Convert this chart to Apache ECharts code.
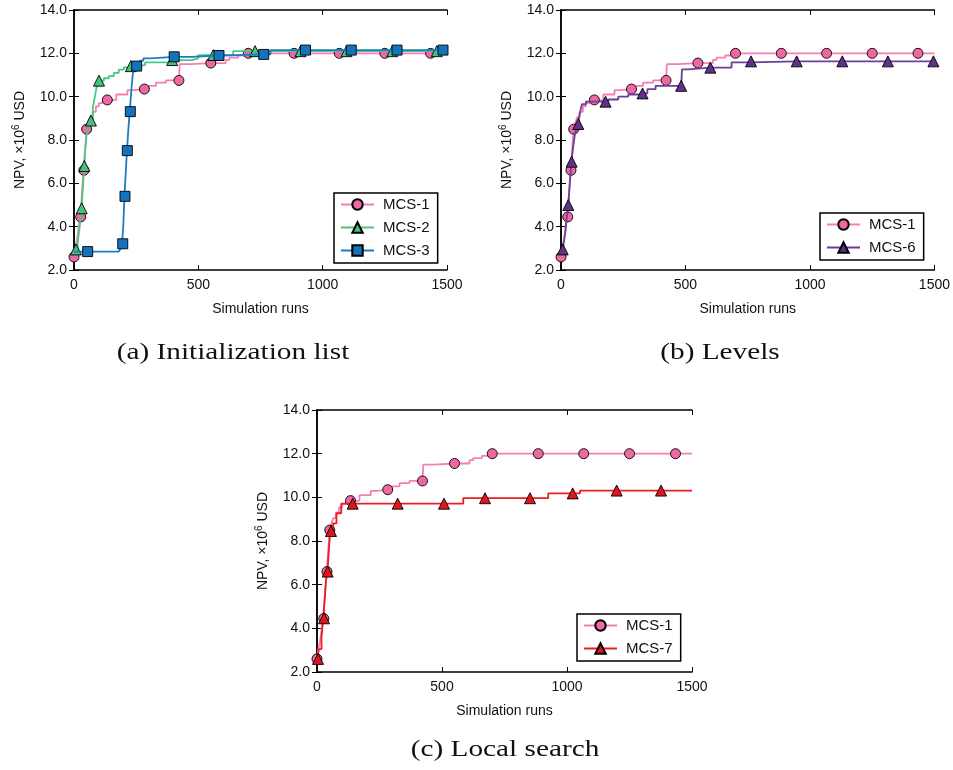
<!DOCTYPE html>
<html>
<head>
<meta charset="utf-8">
<script src="https://cdn.jsdelivr.net/npm/echarts@6/dist/echarts.min.js"></script>
<style>html,body{margin:0;padding:0;background:#fff}#c{width:953px;height:770px}</style>
</head>
<body>
<div id="c"></div>
<script>
// ---- data (simulation runs, NPV x1e6 USD) ----
const mcs1Steps = [[0,2.6],[5,3.0],[12,3.4],[18,3.9],[24,4.45],[29,5.0],[33,5.7],[36,6.2],[39,6.6],[43,7.3],[47,7.9],[51,8.5],[58,8.8],[65,9.05],[75,9.3],[88,9.55],[100,9.7],[115,9.8],[130,9.85],[170,10.1],[215,10.3],[240,10.35],[300,10.5],[330,10.65],[370,10.75],[425,11.5],[470,11.55],[610,11.7],[625,11.8],[660,11.9],[690,12.0],[1500,12.0]];
const mcs1Marks = [0,27,40,51,134,283,422,550,701,885,1067,1250,1434];

const mcs2Steps = [[0,2.95],[15,3.3],[22,3.9],[26,4.4],[30,4.85],[34,5.5],[38,6.2],[41,6.8],[45,7.5],[50,8.2],[58,8.6],[66,8.9],[76,9.5],[84,10.0],[92,10.5],[100,10.74],[120,10.85],[140,10.95],[160,11.1],[180,11.25],[200,11.35],[225,11.41],[240,11.46],[286,11.58],[386,11.69],[473,11.77],[500,11.92],[640,12.1],[1500,12.1]];
const mcs2Marks = [8,31,41.5,68,100.5,229,395,560,728,911,1096,1280,1459];

const mcs3Steps = [[0,2.85],[180,2.85],[188,3.0],[193,3.21],[198,4.0],[203,5.4],[208,6.5],[213,7.51],[218,8.4],[224,9.31],[230,10.2],[236,11.0],[242,11.41],[265,11.66],[279,11.77],[306,11.84],[470,11.9],[600,11.95],[790,12.15],[1500,12.15]];
const mcs3Marks = [55,196,205,214.5,226.5,252,403,583,763,931,1115,1299,1484];

const mcs6Steps = [[0,2.95],[10,3.2],[17,3.7],[22,4.3],[26,4.7],[29,5.0],[33,5.6],[38,6.4],[42,7.0],[48,7.6],[55,8.2],[62,8.55],[68,8.74],[76,9.25],[84,9.65],[100,9.77],[190,9.87],[230,10.0],[270,10.1],[310,10.15],[347,10.35],[380,10.5],[486,11.26],[510,11.34],[685,11.58],[758,11.63],[1500,11.63]];
const mcs6Marks = [7,29.4,42.8,69.5,179,327.6,482.7,600,763.5,946.7,1130,1313,1496];

const mcs7Steps = [[0,2.6],[8,3.05],[18,3.6],[25,4.46],[31,5.4],[36,6.2],[42,6.6],[48,7.7],[53,8.46],[65,8.81],[78,9.27],[97,9.71],[585,9.96],[925,10.18],[1052,10.31],[1500,10.31]];
const mcs7Marks = [4,28,42.7,56,142.7,322.7,508,672,852,1022.7,1198.7,1376];

const xTicks = [0,500,1000,1500];
const yTicks = [2,4,6,8,10,12,14];
const captions = ['(a) Initialization list','(b) Levels','(c) Local search'];

// ---- styling ----
const COLORS = {
  'MCS-1': {line:'#f57fb4', fill:'#ef68a4', symbol:'circle', size:10},
  'MCS-2': {line:'#48c982', fill:'#43c27c', symbol:'triangle', size:11},
  'MCS-3': {line:'#1c7cc4', fill:'#1573bd', symbol:'rect', size:10},
  'MCS-6': {line:'#6d3f98', fill:'#5f3189', symbol:'triangle', size:11},
  'MCS-7': {line:'#ec1c24', fill:'#e0161e', symbol:'triangle', size:11}
};

function lookup(steps, x){
  let y = steps[0][1];
  for (const p of steps){ if (p[0] <= x) y = p[1]; }
  return y;
}
function build(steps, marks){
  const pts = steps.map(p => ({value:[p[0],p[1]], k:0}));
  marks.forEach(m => pts.push({value:[m, lookup(steps,m)], k:1}));
  pts.sort((a,b)=> a.value[0]-b.value[0] || a.k-b.k);
  return pts.map(p => p.k ? {value:p.value} : {value:p.value, symbol:'none'});
}

const grids = [
  {left:74, top:10, width:373, height:260},
  {left:561, top:10, width:374, height:260},
  {left:317, top:410, width:375, height:262}
];
const FONT = 'Liberation Sans';
const xAxes = [], yAxes = [];
grids.forEach((g,i)=>{
  xAxes.push({gridIndex:i, type:'value', min:xTicks[0], max:xTicks[xTicks.length-1], interval:xTicks[1]-xTicks[0], position:'bottom',
    axisLine:{lineStyle:{color:'#000', width:1.5}},
    axisTick:{inside:true, length:5, lineStyle:{color:'#000', width:1}},
    axisLabel:{color:'#111', fontFamily:FONT, fontSize:14, margin:8, formatter:v=>String(v)},
    splitLine:{show:false},
    name:'Simulation runs', nameLocation:'middle', nameGap:32,
    nameTextStyle:{color:'#111', fontFamily:FONT, fontSize:14}});
  xAxes.push({gridIndex:i, type:'value', min:xTicks[0], max:xTicks[xTicks.length-1], interval:xTicks[1]-xTicks[0], position:'top',
    axisLine:{lineStyle:{color:'#000', width:1.5}},
    axisTick:{inside:true, length:5, lineStyle:{color:'#000', width:1}},
    axisLabel:{show:false}, splitLine:{show:false}});
  yAxes.push({gridIndex:i, type:'value', min:yTicks[0], max:yTicks[yTicks.length-1], interval:yTicks[1]-yTicks[0], position:'left',
    axisLine:{show:true, lineStyle:{color:'#000', width:1.5}},
    axisTick:{show:true, inside:true, length:5, lineStyle:{color:'#000', width:1}},
    axisLabel:{color:'#111', fontFamily:FONT, fontSize:14, margin:7, formatter:v=>v.toFixed(1)},
    splitLine:{show:false},
    name:'NPV, ×10{sup|6} USD', nameLocation:'middle', nameGap:45, nameRotate:90,
    nameTextStyle:{color:'#111', fontFamily:FONT, fontSize:14,
      rich:{sup:{fontFamily:FONT, fontSize:10, verticalAlign:'top', padding:[0,0,8,0], color:'#111'}}}});
  yAxes.push({gridIndex:i, type:'value', min:yTicks[0], max:yTicks[yTicks.length-1], interval:yTicks[1]-yTicks[0], position:'right',
    axisLine:{show:true, lineStyle:{color:'#000', width:1.5}},
    axisTick:{show:true, inside:true, length:5, lineStyle:{color:'#000', width:1}},
    axisLabel:{show:false}, splitLine:{show:false}});
});

function ser(name, steps, marks, gi, z){
  const c = COLORS[name];
  return {
    name, type:'line', xAxisIndex:gi*2, yAxisIndex:gi*2, step:'end',
    data: build(steps, marks), showAllSymbol:true,
    symbol:c.symbol, symbolSize:c.size, z:z,
    lineStyle:{color:c.line, width:1.8},
    itemStyle:{color:c.fill, borderColor:'#000', borderWidth:0.9},
    emphasis:{disabled:true}, animation:false
  };
}

const series = [
  ser('MCS-1', mcs1Steps, mcs1Marks, 0, 2),
  ser('MCS-2', mcs2Steps, mcs2Marks, 0, 3),
  ser('MCS-3', mcs3Steps, mcs3Marks, 0, 4),
  ser('MCS-1', mcs1Steps, mcs1Marks, 1, 2),
  ser('MCS-6', mcs6Steps, mcs6Marks, 1, 3),
  ser('MCS-1', mcs1Steps, mcs1Marks, 2, 2),
  ser('MCS-7', mcs7Steps, mcs7Marks, 2, 3)
];

function legend(left, top, names){
  return {left, top, orient:'vertical', data:names, selectedMode:false,
    itemWidth:33, itemHeight:13, itemGap:8,
    padding:[4,8,5,6], borderColor:'#000', borderWidth:1.5, backgroundColor:'#fff',
    textStyle:{color:'#111', fontFamily:FONT, fontSize:15, padding:[0,0,0,4]}};
}

function caption(text, x, y){
  return {type:'text', x:x, y:y, scaleX:1.22, scaleY:1,
    style:{text:text, font:'24px "Liberation Serif"', fill:'#111', x:0, y:0, textAlign:'center', textVerticalAlign:'middle'}};
}

const chart = echarts.init(document.getElementById('c'), null, {renderer:'canvas'});
chart.setOption({
  animation:false,
  backgroundColor:'#fff',
  grid: grids,
  xAxis: xAxes,
  yAxis: yAxes,
  legend: [
    legend(334, 193, ['MCS-1','MCS-2','MCS-3']),
    legend(820, 213, ['MCS-1','MCS-6']),
    legend(577, 614, ['MCS-1','MCS-7'])
  ],
  graphic: [
    caption(captions[0], 233, 353),
    caption(captions[1], 720, 353),
    caption(captions[2], 505, 750)
  ],
  series
});
</script>
</body>
</html>
